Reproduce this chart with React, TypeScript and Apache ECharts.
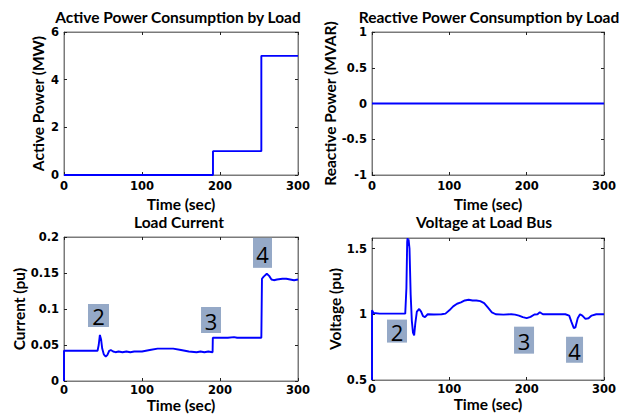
import React, { useEffect, useRef } from "react";
import * as echarts from "echarts";

// ---- data ----
const activePower: [number, number][] = [[0, 0], [191, 0], [191, 1], [253, 1], [253, 5], [300, 5]];
const reactivePower: [number, number][] = [[0, 0], [300, 0]];
const loadCurrent: [number, number][] = [
  [0, 0], [0.01, 0.042], [43, 0.042], [44.5, 0.05], [46, 0.064], [47.5, 0.058], [49, 0.045],
  [51, 0.037], [53.5, 0.034], [55.5, 0.036], [58, 0.042], [60, 0.043], [63, 0.041], [66, 0.04],
  [70, 0.041], [75, 0.04], [80, 0.041], [85, 0.04], [90, 0.041], [100, 0.041], [110, 0.043],
  [120, 0.045], [130, 0.045], [140, 0.045], [150, 0.043], [160, 0.041], [170, 0.04], [175, 0.041],
  [180, 0.04], [185, 0.041], [190.5, 0.04], [190.8, 0.06], [200, 0.06], [210, 0.06], [218, 0.061],
  [222, 0.06], [235, 0.06], [253, 0.06], [253.8, 0.142], [256, 0.145], [260, 0.149], [263, 0.146],
  [266, 0.141], [269, 0.14], [273, 0.141], [280, 0.142], [285, 0.142], [290, 0.141], [295, 0.14], [300, 0.141],
];
const loadVoltage: [number, number][] = [
  [0, 0.5], [0.01, 1.03], [2, 1.01], [10, 1.005], [43, 1.005], [44.5, 1.2], [45.5, 1.55], [46, 1.58],
  [46.6, 1.52], [47.3, 1.57], [48.5, 1.5], [50, 1.15], [51.5, 0.95], [53, 0.86], [54.5, 0.84],
  [56, 0.93], [58, 1.02], [61, 1.04], [63.5, 1.02], [66, 0.985], [68.5, 0.978], [72, 1.0],
  [80, 0.998], [90, 1.0], [95, 1.005], [100, 1.03], [105, 1.06], [110, 1.08], [115, 1.09],
  [120, 1.105], [125, 1.11], [130, 1.105], [135, 1.105], [140, 1.1], [145, 1.085], [150, 1.05],
  [155, 1.015], [160, 1.0], [170, 0.997], [180, 1.0], [185, 0.997], [190, 0.99], [195, 0.978],
  [200, 0.97], [205, 0.98], [210, 0.998], [214, 1.0], [217, 1.015], [221, 1.0], [230, 1.0],
  [240, 1.0], [250, 1.0], [255, 0.99], [258, 0.94], [261, 0.895], [263, 0.9], [266, 0.97],
  [269, 1.0], [272, 0.99], [276, 0.965], [280, 0.97], [284, 0.99], [290, 1.0], [300, 1.0],
];
const currentNotes = [
  { label: "2", t: 44.2, v: 0.091 },
  { label: "3", t: 188.5, v: 0.0847 },
  { label: "4", t: 254.5, v: 0.178 },
];
const voltageNotes = [
  { label: "2", t: 32.3, v: 0.872 },
  { label: "3", t: 196.6, v: 0.803 },
  { label: "4", t: 261.9, v: 0.73 },
];
const titles = [
  "Active Power Consumption by Load",
  "Reactive Power Consumption by Load",
  "Load Current",
  "Voltage at Load Bus",
];
const yNames = ["Active Power (MW)", "Reactive Power (MVAR)", "Current (pu)", "Voltage (pu)"];
const xName = "Time (sec)";

// ---- styling ----
const FRAME = "#7a7a7a";
const BOX = "#95a9c7";
const currentBoxSizes = [[21, 23], [20, 26], [19, 30]];
const voltageBoxSizes = [[20, 23], [20, 27], [17, 26]];

const grids = [
  { left: 64, top: 32, width: 234, height: 143 },
  { left: 372, top: 32, width: 232, height: 143 },
  { left: 64, top: 237, width: 234, height: 144 },
  { left: 372, top: 238, width: 232, height: 142 },
];
const yRanges = [
  { min: 0, max: 6, interval: 2 },
  { min: -1, max: 1, interval: 0.5 },
  { min: 0, max: 0.2, interval: 0.05 },
  { min: 0.5, max: 1.58, interval: 0.5 },
];
const yNameGaps = [18, 30, 37, 28];
const xNameGaps = [21, 21, 14, 14];
const xLabelMargins = [5, 5, 3, 3];
const titlePos = [[178, 17], [489, 17], [179, 221.5], [484, 221.5]];

const tickFont = { fontFamily: "DejaVu Sans", fontWeight: "bold" as const, fontSize: 11.5, color: "#000", lineHeight: 12 };
const nameFont = { fontFamily: "Lato", fontWeight: "bold" as const, fontSize: 15.5, color: "#000" };

function App() {
  const ref = useRef<HTMLDivElement>(null);
  useEffect(() => {
    if (!ref.current) return;
    const chart = echarts.init(ref.current, undefined, { renderer: "svg" });
    const xAxis: any[] = [];
    const yAxis: any[] = [];
    grids.forEach((_, i) => {
      const common = {
        gridIndex: i,
        type: "value",
        splitLine: { show: false },
        axisLine: { show: true, onZero: false, lineStyle: { color: FRAME, width: 1 } },
        axisTick: { show: true, inside: true, length: 3, lineStyle: { color: "#222" } },
      };
      xAxis.push({
        ...common,
        position: "bottom",
        min: 0, max: 300, interval: 100,
        name: xName, nameLocation: "middle", nameGap: xNameGaps[i], nameTextStyle: nameFont,
        axisLabel: { ...tickFont, margin: xLabelMargins[i] },
      });
      xAxis.push({
        ...common,
        position: "top",
        min: 0, max: 300, interval: 100,
        axisLabel: { show: false },
      });
      yAxis.push({
        ...common,
        position: "left",
        ...yRanges[i],
        name: yNames[i], nameLocation: "middle", nameGap: yNameGaps[i], nameTextStyle: nameFont,
        axisLabel: { ...tickFont, margin: 5, showMaxLabel: i === 3 ? false : true },
      });
      yAxis.push({
        ...common,
        position: "right",
        ...yRanges[i],
        axisLabel: { show: false },
      });
    });
    const lineStyle = { color: "#0000ff", width: 1.9 };
    const mk = (notes: typeof currentNotes, sizes: number[][]) => ({
      silent: true,
      animation: false,
      data: notes.map((n, k) => ({
        coord: [n.t, n.v],
        symbol: "rect",
        symbolSize: sizes[k],
        itemStyle: { color: BOX },
        label: {
          show: true,
          position: "inside",
          formatter: n.label,
          color: "#000",
          fontFamily: "Open Sans",
          fontSize: 22,
          offset: [0, 1],
        },
      })),
    });
    const datasets = [activePower, reactivePower, loadCurrent, loadVoltage];
    const series: any[] = datasets.map((d, i) => ({
      type: "line",
      xAxisIndex: i * 2,
      yAxisIndex: i * 2,
      data: d,
      showSymbol: false,
      symbol: "none",
      lineStyle,
      itemStyle: { color: "#0000ff" },
      markPoint: i === 2 ? mk(currentNotes, currentBoxSizes) : i === 3 ? mk(voltageNotes, voltageBoxSizes) : undefined,
    }));
    chart.setOption({
      animation: false,
      backgroundColor: "#fff",
      grid: grids.map((g) => ({ ...g, show: true, borderColor: FRAME, borderWidth: 1, backgroundColor: "transparent" })),
      xAxis,
      yAxis,
      series,
      graphic: titles.map((t, i) => ({
        type: "text",
        x: titlePos[i][0],
        y: titlePos[i][1],
        style: {
          text: t,
          fontFamily: "Lato",
          fontWeight: "bold",
          fontSize: 15.5,
          fill: "#000",
          textAlign: "center",
          textVerticalAlign: "middle",
        },
      })),
    });
    return () => chart.dispose();
  }, []);
  return <div ref={ref} style={{ position: "fixed", left: 0, top: 0, width: 629, height: 417 }} />;
}

export default App;
